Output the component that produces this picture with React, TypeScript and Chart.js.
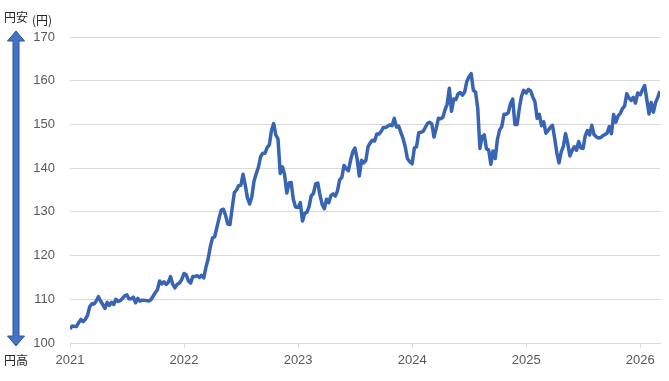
import React, { useEffect, useRef } from "react";
import { Chart, registerables } from "chart.js";

Chart.register(...registerables);

// Weekly USD/JPY rate, each year's array starts at the first week of January
const usdJpy2021 = [
  103.2, 103.9, 103.8, 103.8, 104.7,
  105.4, 104.9, 105.4, 106.3,
  108.3, 109.0, 108.9, 109.6,
  110.6, 109.6, 108.8, 107.9, 109.3,
  108.6, 109.3, 108.8, 110.0,
  109.5, 109.7, 110.2, 110.8,
  111.0, 110.1, 110.1, 110.5, 109.2,
  110.2, 109.6, 109.8, 109.8,
  109.7, 109.6, 109.9, 110.7,
  111.5, 112.2, 114.2, 113.5, 114.0,
  113.4, 113.9, 115.2, 113.4,
  112.6, 113.4, 113.7, 114.4,
];
const usdJpy2022 = [
  115.9, 115.6, 114.2, 113.7, 115.2,
  115.2, 115.4, 115.0, 115.5,
  114.9, 117.3, 119.2, 122.0,
  124.0, 124.3, 126.4, 128.5, 130.4,
  130.6, 129.2, 127.2, 127.1,
  130.8, 134.4, 135.0, 136.0,
  136.1, 138.6, 136.1, 133.2,
  131.8, 133.4, 137.0, 138.7, 140.2,
  142.6, 143.4, 143.4, 144.7,
  145.3, 148.6, 150.2, 147.6,
  146.6, 138.8, 140.3, 138.5,
  134.3, 136.6, 136.7, 132.8, 131.1,
];
const usdJpy2023 = [
  131.0, 132.1, 127.9, 129.6, 129.9,
  131.2, 133.7, 134.2, 136.4,
  136.6, 133.9, 131.7, 130.7, 132.9,
  132.1, 133.7, 134.1, 133.6,
  134.8, 137.3, 137.9, 140.6,
  139.9, 139.4, 141.8, 143.7, 144.6,
  142.1, 138.2, 141.8, 141.2,
  141.8, 144.9, 145.8, 146.4,
  146.2, 147.8, 147.8, 148.4, 149.3,
  149.3, 149.6, 149.9, 149.7,
  151.4, 149.4, 149.6, 148.2,
  146.8, 144.9, 142.2, 141.5,
];
const usdJpy2024 = [
  141.0, 144.6, 144.9, 148.1, 148.2,
  148.4, 149.3, 150.2, 150.5,
  150.1, 147.1, 149.1, 151.4,
  151.3, 151.6, 153.3, 154.6, 158.3,
  153.0, 155.8, 155.7, 157.0,
  157.3, 156.7, 157.4, 159.8, 160.9,
  161.6, 157.8, 157.4, 153.7,
  144.5, 147.2, 147.6, 144.4,
  144.2, 140.9, 143.9, 142.2,
  146.6, 148.7, 149.5, 152.3,
  152.3, 152.7, 154.8, 155.8, 150.0,
  150.0, 153.6, 156.4, 157.8,
];
const usdJpy2025 = [
  157.2, 158.0, 157.7, 156.3, 155.2,
  151.4, 152.3, 149.7, 150.6,
  148.0, 148.6, 149.3, 149.8,
  146.9, 143.5, 141.2, 143.7,
  145.0, 147.9, 145.6, 142.8, 144.0,
  144.9, 144.1, 146.1, 144.6,
  144.5, 147.4, 148.6, 147.6,
  149.8, 147.7, 147.2, 146.9, 147.0,
  147.4, 147.7, 148.0, 149.5,
  147.9, 152.3, 150.5, 151.9, 152.5,
  153.6, 154.2, 157.0, 156.1,
  155.5, 156.2, 154.9, 157.2,
];
const usdJpy2026 = [156.8, 157.9, 158.9, 155.7, 152.4, 155.0, 152.8, 155.0, 156.2, 157.6];

const seriesByYear = [
  { year: 2021, values: usdJpy2021 },
  { year: 2022, values: usdJpy2022 },
  { year: 2023, values: usdJpy2023 },
  { year: 2024, values: usdJpy2024 },
  { year: 2025, values: usdJpy2025 },
  { year: 2026, values: usdJpy2026 },
];

const yTicks = [100, 110, 120, 130, 140, 150, 160, 170];
const xTicks = [2021, 2022, 2023, 2024, 2025, 2026];
const unitLabel = "(円)";
const topLabel = "円安";
const bottomLabel = "円高";

const LINE_COLOR = "#3864B4";
const GRID = "#D9D9D9";
const TICK_COLOR = "#595959";

const arrowPlugin = {
  id: "yenArrow",
  afterDraw(chart: any) {
    const ctx = chart.ctx;
    const top = chart.chartArea.top;
    const bottom = chart.chartArea.bottom;
    const cx = 16;
    const tipTop = top - 6;
    const tipBot = bottom + 3;
    const headH = 10;
    const headW = 8.5;
    const shaftW = 3;
    ctx.save();
    ctx.beginPath();
    ctx.moveTo(cx, tipTop);
    ctx.lineTo(cx + headW, tipTop + headH);
    ctx.lineTo(cx + shaftW, tipTop + headH);
    ctx.lineTo(cx + shaftW, tipBot - headH);
    ctx.lineTo(cx + headW, tipBot - headH);
    ctx.lineTo(cx, tipBot);
    ctx.lineTo(cx - headW, tipBot - headH);
    ctx.lineTo(cx - shaftW, tipBot - headH);
    ctx.lineTo(cx - shaftW, tipTop + headH);
    ctx.lineTo(cx - headW, tipTop + headH);
    ctx.closePath();
    ctx.fillStyle = "#4472C4";
    ctx.fill();
    ctx.lineWidth = 1;
    ctx.strokeStyle = "#2F5597";
    ctx.stroke();

    ctx.fillStyle = "#262626";
    ctx.font = '12px "Noto Sans CJK JP"';
    ctx.textBaseline = "middle";
    ctx.textAlign = "left";
    ctx.fillText(topLabel, 4, 17);
    ctx.fillText(bottomLabel, 4, 360);
    ctx.fillText(unitLabel, 32, 20);
    ctx.restore();
  },
};

export default function App() {
  const ref = useRef<HTMLCanvasElement>(null);

  useEffect(() => {
    document.body.style.margin = "0";
    const points: { x: number; y: number }[] = [];
    seriesByYear.forEach(({ year, values }) => {
      values.forEach((v, i) => points.push({ x: year + (i * 7) / 365.25, y: v }));
    });
    const chart = new Chart(ref.current!, {
      type: "line",
      data: {
        datasets: [
          {
            data: points,
            borderColor: LINE_COLOR,
            borderWidth: 3.5,
            borderJoinStyle: "round",
            pointRadius: 0,
            tension: 0,
            fill: false,
          },
        ],
      },
      options: {
        animation: false,
        responsive: false,
        parsing: false as any,
        layout: { padding: { top: 37, right: 9, left: 0, bottom: 0 } },
        plugins: { legend: { display: false }, tooltip: { enabled: false } },
        scales: {
          x: {
            type: "linear",
            min: 2021,
            max: 2026.173,
            afterBuildTicks: (scale: any) => {
              scale.ticks = xTicks.map((v) => ({ value: v }));
            },
            afterFit: (scale: any) => {
              scale.height = 38;
            },
            ticks: {
              color: TICK_COLOR,
              font: { family: "Liberation Sans", size: 13 },
              padding: 5,
              maxRotation: 0,
              autoSkip: false,
              callback: (v: any) => String(v),
            },
            grid: { drawOnChartArea: false, drawTicks: true, tickLength: 5, color: GRID },
            border: { color: GRID },
          },
          y: {
            min: 100,
            max: 170,
            afterBuildTicks: (scale: any) => {
              scale.ticks = yTicks.map((v) => ({ value: v }));
            },
            afterFit: (scale: any) => {
              scale.width = 70;
            },
            ticks: {
              color: TICK_COLOR,
              font: { family: "Liberation Sans", size: 13 },
              padding: 15,
            },
            grid: { color: GRID, drawTicks: false },
            border: { display: false },
          },
        },
      },
      plugins: [arrowPlugin],
    });
    return () => chart.destroy();
  }, []);

  return (
    <div style={{ width: 669, height: 381, background: "#fff" }}>
      <canvas ref={ref} width={669} height={381} />
    </div>
  );
}
